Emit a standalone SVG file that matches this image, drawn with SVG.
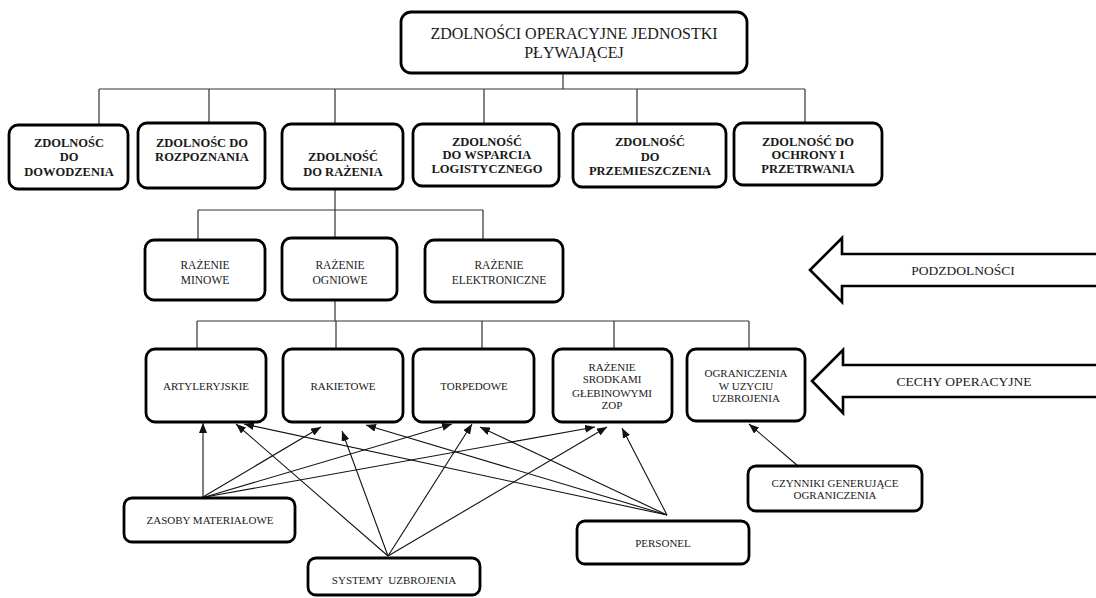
<svg xmlns="http://www.w3.org/2000/svg" width="1096" height="598" viewBox="0 0 1096 598">
  <defs>
    <marker id="head" viewBox="0 0 10 8" refX="10" refY="4" markerWidth="10" markerHeight="8" markerUnits="userSpaceOnUse" orient="auto">
      <path d="M0,0 L10,4 L0,8 Z" fill="#111"/>
    </marker>
    <style>
      .box { fill: #fff; stroke: #000; stroke-width: 2.8; }
      .big { fill: #fff; stroke: #000; stroke-width: 2.6; stroke-linejoin: miter; }
      .tree { fill: none; stroke: #333; stroke-width: 1.2; }
      .arrow { fill: none; stroke: #111; stroke-width: 1.1; marker-end: url(#head); }
      text { font-family: "Liberation Serif", "Times New Roman", serif; fill: #1a1a1a; text-anchor: middle; }
      .t16 { font-size: 16px; }
      .b12 { font-size: 12.5px; font-weight: bold; }
      .t11 { font-size: 11.5px; }
      .t10 { font-size: 11px; }
      .t13 { font-size: 13.5px; }
    </style>
  </defs>

  <!-- tree lines and arrows -->
  <g id="connectors">
    <path class="tree" d="M563,73 V89 M99,89 H805 M99,89 V125 M209,89 V123 M335,89 V124 M484,89 V124 M637,89 V124 M805,89 V123"/>
    <path class="tree" d="M335,189 V210 M198,210 H483 M198,210 V240 M335,210 V238 M483,210 V240"/>
    <path class="tree" d="M335,300 V321 M197,321 H749 M197,321 V349 M336,321 V349 M482,321 V349 M614,321 V349 M749,321 V349"/>

    <line class="arrow" x1="203" y1="497" x2="203" y2="423"/>
    <line class="arrow" x1="203" y1="497" x2="321" y2="427"/>
    <line class="arrow" x1="205" y1="497" x2="452" y2="424"/>
    <line class="arrow" x1="205" y1="497" x2="595" y2="427"/>

    <line class="arrow" x1="388" y1="556" x2="236" y2="424"/>
    <line class="arrow" x1="388" y1="556" x2="342" y2="431"/>
    <line class="arrow" x1="388" y1="556" x2="472" y2="424"/>
    <line class="arrow" x1="388" y1="556" x2="607" y2="427"/>

    <line class="arrow" x1="667" y1="515" x2="244" y2="424"/>
    <line class="arrow" x1="667" y1="515" x2="366" y2="425"/>
    <line class="arrow" x1="667" y1="515" x2="480" y2="427"/>
    <line class="arrow" x1="667" y1="515" x2="622" y2="428"/>

    <line class="arrow" x1="798" y1="466" x2="749" y2="424"/>
  </g>

  <g id="root">
    <rect class="box" x="401" y="12" width="346" height="61" rx="10"/>
    <text class="t16" x="574" y="39">ZDOLNOŚCI OPERACYJNE JEDNOSTKI</text>
    <text class="t16" x="574" y="58">PŁYWAJĄCEJ</text>
  </g>

  <g id="dowodzenie">
    <rect class="box" x="9" y="125" width="119" height="64" rx="9"/>
    <text class="b12" x="69" y="147">ZDOLNOŚC</text>
    <text class="b12" x="69" y="161">DO</text>
    <text class="b12" x="69" y="176">DOWODZENIA</text>
  </g>
  <g id="rozpoznanie">
    <rect class="box" x="138" y="123" width="127" height="65" rx="9"/>
    <text class="b12" x="202" y="147">ZDOLNOŚC DO</text>
    <text class="b12" x="202" y="161">ROZPOZNANIA</text>
  </g>
  <g id="razenie">
    <rect class="box" x="282" y="124" width="121" height="65" rx="9"/>
    <text class="b12" x="343" y="161">ZDOLNOŚĆ</text>
    <text class="b12" x="343" y="176">DO RAŻENIA</text>
  </g>
  <g id="wsparcie">
    <rect class="box" x="413" y="124" width="146" height="62" rx="9"/>
    <text class="b12" x="487" y="146">ZDOLNOŚĆ</text>
    <text class="b12" x="487" y="159">DO WSPARCIA</text>
    <text class="b12" x="487" y="173">LOGISTYCZNEGO</text>
  </g>
  <g id="przemieszczenie">
    <rect class="box" x="573" y="124" width="153" height="63" rx="9"/>
    <text class="b12" x="650" y="146">ZDOLNOŚĆ</text>
    <text class="b12" x="650" y="161">DO</text>
    <text class="b12" x="650" y="175">PRZEMIESZCZENIA</text>
  </g>
  <g id="ochrona">
    <rect class="box" x="734" y="123" width="148" height="62" rx="9"/>
    <text class="b12" x="808" y="146">ZDOLNOŚĆ DO</text>
    <text class="b12" x="808" y="159">OCHRONY I</text>
    <text class="b12" x="808" y="173">PRZETRWANIA</text>
  </g>

  <g id="minowe">
    <rect class="box" x="145" y="240" width="120" height="60" rx="9"/>
    <text class="t11" x="205" y="269">RAŻENIE</text>
    <text class="t11" x="205" y="284">MINOWE</text>
  </g>
  <g id="ogniowe">
    <rect class="box" x="282" y="238" width="115" height="62" rx="9"/>
    <text class="t11" x="340" y="269">RAŻENIE</text>
    <text class="t11" x="340" y="284">OGNIOWE</text>
  </g>
  <g id="elektroniczne">
    <rect class="box" x="425" y="240" width="138" height="62" rx="9"/>
    <text class="t11" x="499" y="269">RAŻENIE</text>
    <text class="t11" x="499" y="284">ELEKTRONICZNE</text>
  </g>

  <g id="podzdolnosci">
    <polygon class="big" points="810,270 842,238 842,254 1100,254 1100,286 842,286 842,302"/>
    <text class="t13" x="963" y="275">PODZDOLNOŚCI</text>
  </g>

  <g id="artyleryjskie">
    <rect class="box" x="146" y="349" width="120" height="73" rx="9"/>
    <text class="t10" x="206" y="390">ARTYLERYJSKIE</text>
  </g>
  <g id="rakietowe">
    <rect class="box" x="283" y="349" width="120" height="73" rx="9"/>
    <text class="t10" x="343" y="390">RAKIETOWE</text>
  </g>
  <g id="torpedowe">
    <rect class="box" x="413" y="349" width="121" height="73" rx="9"/>
    <text class="t10" x="474" y="390">TORPEDOWE</text>
  </g>
  <g id="glebinowe">
    <rect class="box" x="553" y="349" width="119" height="73" rx="9"/>
    <text class="t10" x="612" y="371">RAŻENIE</text>
    <text class="t10" x="612" y="383">SRODKAMI</text>
    <text class="t10" x="612" y="397">GŁEBINOWYMI</text>
    <text class="t10" x="612" y="409">ZOP</text>
  </g>
  <g id="ograniczenia">
    <rect class="box" x="687" y="349" width="118" height="72" rx="9"/>
    <text class="t10" x="746" y="377">OGRANICZENIA</text>
    <text class="t10" x="746" y="390">W UZYCIU</text>
    <text class="t10" x="746" y="402">UZBROJENIA</text>
  </g>

  <g id="cechy">
    <polygon class="big" points="812,381 843,350 843,365 1100,365 1100,397 843,397 843,413"/>
    <text class="t13" x="964" y="386">CECHY OPERACYJNE</text>
  </g>

  <g id="czynniki">
    <rect class="box" x="748" y="466" width="174" height="45" rx="8"/>
    <text class="t10" x="835" y="487">CZYNNIKI GENERUJĄCE</text>
    <text class="t10" x="835" y="499">OGRANICZENIA</text>
  </g>
  <g id="zasoby">
    <rect class="box" x="124" y="498" width="171" height="44" rx="8"/>
    <text class="t10" x="210" y="524">ZASOBY MATERIAŁOWE</text>
  </g>
  <g id="personel">
    <rect class="box" x="577" y="521" width="172" height="43" rx="8"/>
    <text class="t10" x="663" y="547">PERSONEL</text>
  </g>
  <g id="systemy">
    <rect class="box" x="308" y="558" width="172" height="37" rx="8"/>
    <text class="t10" x="394" y="584" xml:space="preserve">SYSTEMY  UZBROJENIA</text>
  </g>
</svg>
